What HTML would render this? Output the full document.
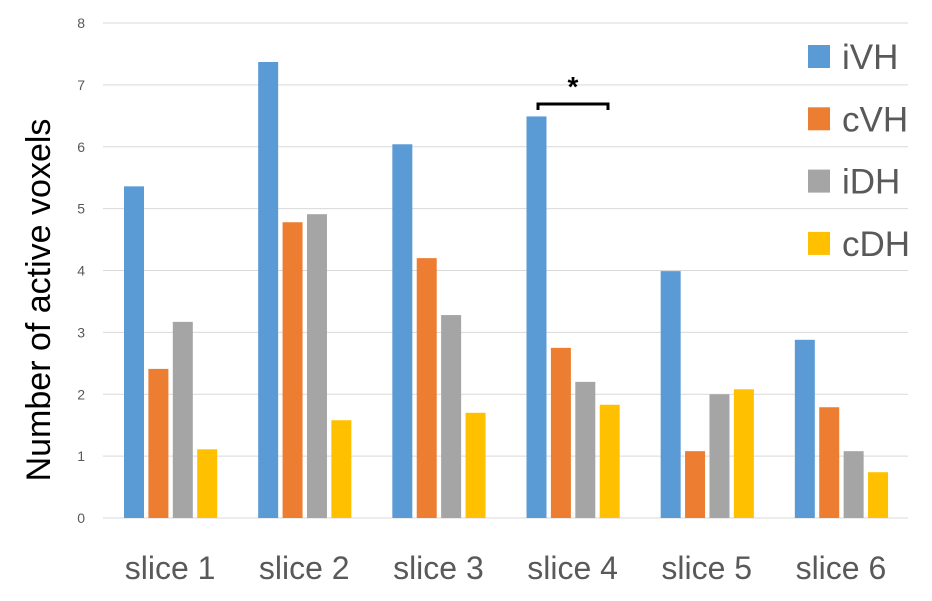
<!DOCTYPE html>
<html><head><meta charset="utf-8"><style>
body{margin:0;background:#fff;}
svg{display:block;font-family:"Liberation Sans",sans-serif;}
</style></head><body>
<svg id="chart" width="932" height="601">
<g id="grid"></g><g id="bars"></g><g id="labels"></g>
<text transform="translate(50,300) rotate(-90)" text-anchor="middle" font-size="34" fill="#000">Number of active voxels</text>
<g>
<path d="M538,110 V104 H608 V110" fill="none" stroke="#000" stroke-width="3"/>
<text x="573" y="96" text-anchor="middle" font-size="28" font-weight="bold">*</text>
</g>
<g id="legend"></g>
</svg>
<script>
const categories=["slice 1","slice 2","slice 3","slice 4","slice 5","slice 6"];
const seriesNames=["iVH","cVH","iDH","cDH"];
const iVH=[5.36,7.37,6.04,6.49,3.99,2.88];
const cVH=[2.41,4.78,4.2,2.75,1.08,1.79];
const iDH=[3.17,4.91,3.28,2.2,2.0,1.08];
const cDH=[1.11,1.58,1.7,1.83,2.08,0.74];
const yTicks=[0,1,2,3,4,5,6,7,8];
const colors=["#5b9bd5","#ed7d31","#a5a5a5","#ffc000"];
const series=[iVH,cVH,iDH,cDH];
const NS="http://www.w3.org/2000/svg";
const x0=103,x1=908,y0=518,y8=23;
const y=v=>y0-(y0-y8)*v/8;
const gw=(x1-x0)/categories.length;
function mk(t,a,p){const e=document.createElementNS(NS,t);for(const k in a)e.setAttribute(k,a[k]);p.appendChild(e);return e;}
const grid=document.getElementById('grid');
yTicks.forEach(t=>{
 const l=mk('line',{x1:x0,x2:x1,y1:y(t),y2:y(t),stroke:'#d9d9d9','stroke-width':1},grid);
 
 
 const tx=mk('text',{x:85,y:y(t)+5,'text-anchor':'end','font-size':14,fill:'#595959'},grid);
 tx.textContent=t;
 
 
});
const bars=document.getElementById('bars'),labels=document.getElementById('labels');
categories.forEach((c,i)=>{
 const gx=x0+i*gw;
 series.forEach((s,j)=>{
  const r=mk('rect',{x:gx+21+j*24.4,y:y(s[i]),width:20,height:y0-y(s[i]),fill:colors[j]},bars);
  
  
 });
 const t=mk('text',{x:gx+gw/2,y:579,'text-anchor':'middle','font-size':32,fill:'#595959'},labels);
 t.textContent=c;
 
 
});
const lg=document.getElementById('legend');
seriesNames.forEach((n,j)=>{
 const yy=45+j*62.3;
 const r=mk('rect',{x:808,y:yy,width:22,height:23,fill:colors[j]},lg);
 
 
 const t=mk('text',{x:842,y:yy+24,'font-size':35,fill:'#595959'},lg);
 t.textContent=n;
 
 
});
</script>
</body></html>
